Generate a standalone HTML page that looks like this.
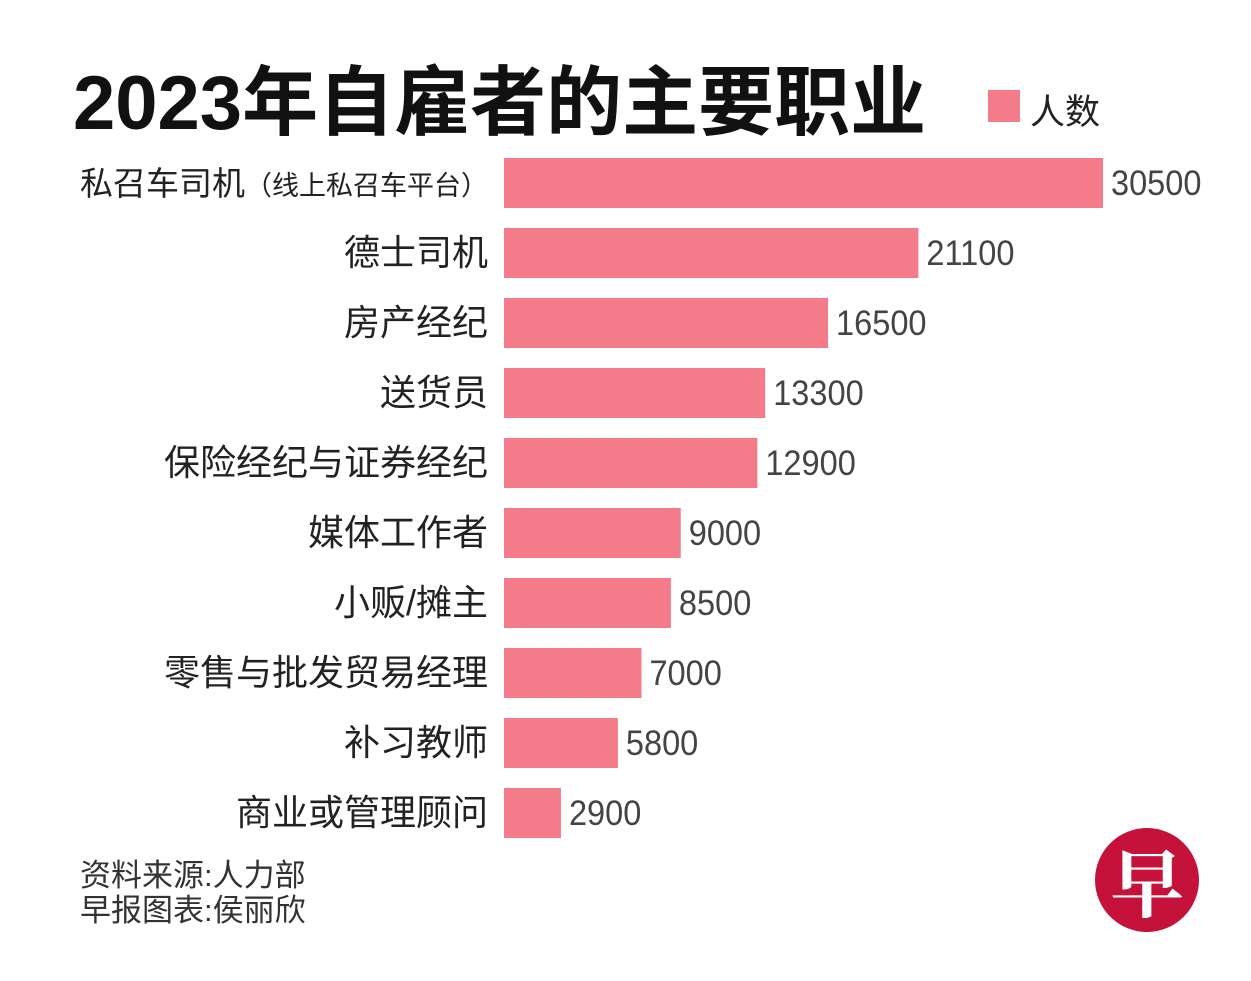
<!DOCTYPE html>
<html><head><meta charset="utf-8"><style>
body{margin:0;width:1251px;height:981px;background:#fff;overflow:hidden;position:relative;font-family:"Liberation Sans","Noto Sans CJK SC",sans-serif;}
.t{position:absolute;white-space:nowrap}
</style></head><body>
<div class="t" style="left:73px;top:41px;font-size:76px;font-weight:bold;color:#111;letter-spacing:0px">2023年自雇者的主要职业</div>
<div style="position:absolute;left:988px;top:90px;width:32px;height:32px;background:#f47c8a"></div>
<div class="t" style="left:1030px;top:84px;font-size:35px;color:#222">人数</div>
<svg id="chart" width="1251" height="981" style="position:absolute;left:0;top:0"></svg>
<div class="t" style="left:80px;top:858px;font-size:31px;color:#333;line-height:35px">资料来源:人力部<br>早报图表:侯丽欣</div>
<div style="position:absolute;left:1095px;top:828px;width:104px;height:104px;border-radius:50%;background:#c4123a;color:#fff;font-size:74px;font-weight:bold;text-align:center;line-height:104px;font-family:'Noto Serif CJK SC',serif">早</div>
<script>
const categories=["私召车司机","德士司机","房产经纪","送货员","保险经纪与证券经纪","媒体工作者","小贩/摊主","零售与批发贸易经理","补习教师","商业或管理顾问"];
const values=[30500,21100,16500,13300,12900,9000,8500,7000,5800,2900];
const svg=document.getElementById('chart');
const ns='http://www.w3.org/2000/svg';
const x0=504,scale=599/30500,top0=158,step=70,bh=50;
const xs=v=>v*scale;
categories.forEach((c,i)=>{
  const y=top0+i*step;
  const r=document.createElementNS(ns,'rect');
  r.setAttribute('x',x0);r.setAttribute('y',y);r.setAttribute('width',xs(values[i]));r.setAttribute('height',bh);r.setAttribute('fill','#f47c8a');
  
  
  svg.appendChild(r);
  const l=document.createElementNS(ns,'text');
  l.setAttribute('x',488);l.setAttribute('y',y+37);l.setAttribute('text-anchor','end');l.setAttribute('fill','#222');
  l.setAttribute('font-size',i==0?'33':'36');
  l.textContent=c;
  if(i==0){
    const s=document.createElementNS(ns,'tspan');
    s.setAttribute('font-size','27');
    s.textContent='（线上私召车平台）';
    l.appendChild(s);
  }
  
  
  svg.appendChild(l);
  const v=document.createElementNS(ns,'text');
  const vx=x0+xs(values[i])+8;
  v.setAttribute('x',vx);v.setAttribute('y',y+37);v.setAttribute('font-size','35');v.setAttribute('fill','#444');
  v.setAttribute('transform','translate('+vx+',0) scale(0.93,1) translate('+(-vx)+',0)');
  v.textContent=values[i];
  
  
  svg.appendChild(v);
});
</script>
</body></html>
